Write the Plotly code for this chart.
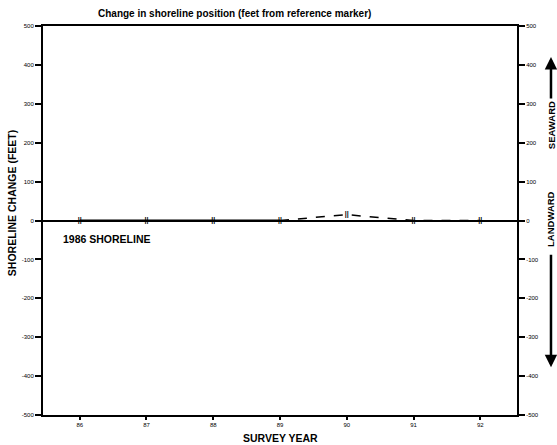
import plotly.graph_objects as go

years = [86, 87, 88, 89, 90, 91, 92]
change = [0, 0, 0, 0, 15, 0, 0]
solid_years = [86, 87, 88, 89]
solid_change = [0, 0, 0, 0]
dash_years = [89, 90, 91, 92]
dash_change = [0, 15, 0, 0]
y_ticks = [500, 400, 300, 200, 100, 0, -100, -200, -300, -400, -500]
y_labels = ["500", "400", "300", "200", "100", "0", "-100", "-200", "-300", "-400", "-500"]
x_labels = ["86", "87", "88", "89", "90", "91", "92"]

FONT = "Liberation Sans, Arial, sans-serif"

fig = go.Figure()
fig.add_trace(go.Scatter(x=solid_years, y=solid_change, mode="lines",
                         line=dict(color="black", width=2), showlegend=False))
fig.add_trace(go.Scatter(x=dash_years, y=dash_change, mode="lines",
                         line=dict(color="black", width=1.5, dash="dash"), showlegend=False))
fig.add_trace(go.Scatter(x=years, y=change, mode="text", text=["<b>||</b>"] * len(years),
                         textfont=dict(family=FONT, size=7, color="black"),
                         textposition="middle center", showlegend=False))
# invisible trace for secondary axis
fig.add_trace(go.Scatter(x=[86], y=[0], yaxis="y2", mode="markers",
                         marker=dict(opacity=0), showlegend=False, hoverinfo="skip"))

fig.update_layout(
    width=557, height=445,
    margin=dict(l=43, r=40, t=26, b=30),
    plot_bgcolor="white", paper_bgcolor="white",
    font=dict(family=FONT, color="black"),
    xaxis=dict(range=[85.45, 92.55], tickvals=years, ticktext=x_labels,
               showgrid=False, zeroline=False, showline=True, linecolor="black",
               linewidth=2, mirror=True, ticks="outside", ticklen=3, tickwidth=1.5,
               tickcolor="black", tickfont=dict(family=FONT, size=6, color="black")),
    yaxis=dict(range=[-500, 500], tickvals=y_ticks, ticktext=y_labels,
               showgrid=False, zeroline=True, zerolinecolor="black", zerolinewidth=2,
               showline=True, linecolor="black", linewidth=2,
               ticks="outside", ticklen=6, tickwidth=1.5, tickcolor="black",
               tickfont=dict(family=FONT, size=6, color="black")),
    yaxis2=dict(range=[-500, 500], tickvals=y_ticks, ticktext=y_labels,
                overlaying="y", side="right", showgrid=False, zeroline=False,
                showline=True, linecolor="black", linewidth=2,
                ticks="outside", ticklen=6, tickwidth=1.5, tickcolor="black",
                tickfont=dict(family=FONT, size=6, color="black")),
)

ann = [
    dict(text="<b>Change in shoreline position (feet from reference marker)</b>",
         x=0.403, y=1.031, xref="paper", yref="paper", showarrow=False,
         font=dict(size=10), xanchor="center", yanchor="middle"),
    dict(text="<b>SHORELINE CHANGE (FEET)</b>", x=-0.065, y=0.545, xref="paper",
         yref="paper", showarrow=False, textangle=-90, font=dict(size=10.5),
         xanchor="center", yanchor="middle"),
    dict(text="<b>SURVEY YEAR</b>", x=0.5, y=-0.058, xref="paper", yref="paper",
         showarrow=False, font=dict(size=10.5), xanchor="center", yanchor="middle"),
    dict(text="<b>1986 SHORELINE</b>", x=85.72, y=-48, xref="x", yref="y",
         showarrow=False, font=dict(size=10.5), xanchor="left", yanchor="middle"),
    dict(text="<b>SEAWARD</b>", x=1.0717, y=0.745, xref="paper", yref="paper",
         showarrow=False, textangle=-90, font=dict(size=9.5),
         xanchor="center", yanchor="middle"),
    dict(text="<b>LANDWARD</b>", x=1.0717, y=0.504, xref="paper", yref="paper",
         showarrow=False, textangle=-90, font=dict(size=9.5),
         xanchor="center", yanchor="middle"),
    dict(text="", x=1.0717, y=0.92, xref="paper", yref="paper", showarrow=True,
         ax=0, ay=43, arrowhead=2, arrowsize=1, arrowwidth=2.5, arrowcolor="black"),
    dict(text="", x=1.0717, y=0.123, xref="paper", yref="paper", showarrow=True,
         ax=0, ay=-114, arrowhead=2, arrowsize=1, arrowwidth=2.5, arrowcolor="black"),
]
fig.update_layout(annotations=ann)

fig.write_html("out.html", config={"displayModeBar": False},
               post_script="document.body.style.margin='0';document.body.style.overflow='hidden';")
